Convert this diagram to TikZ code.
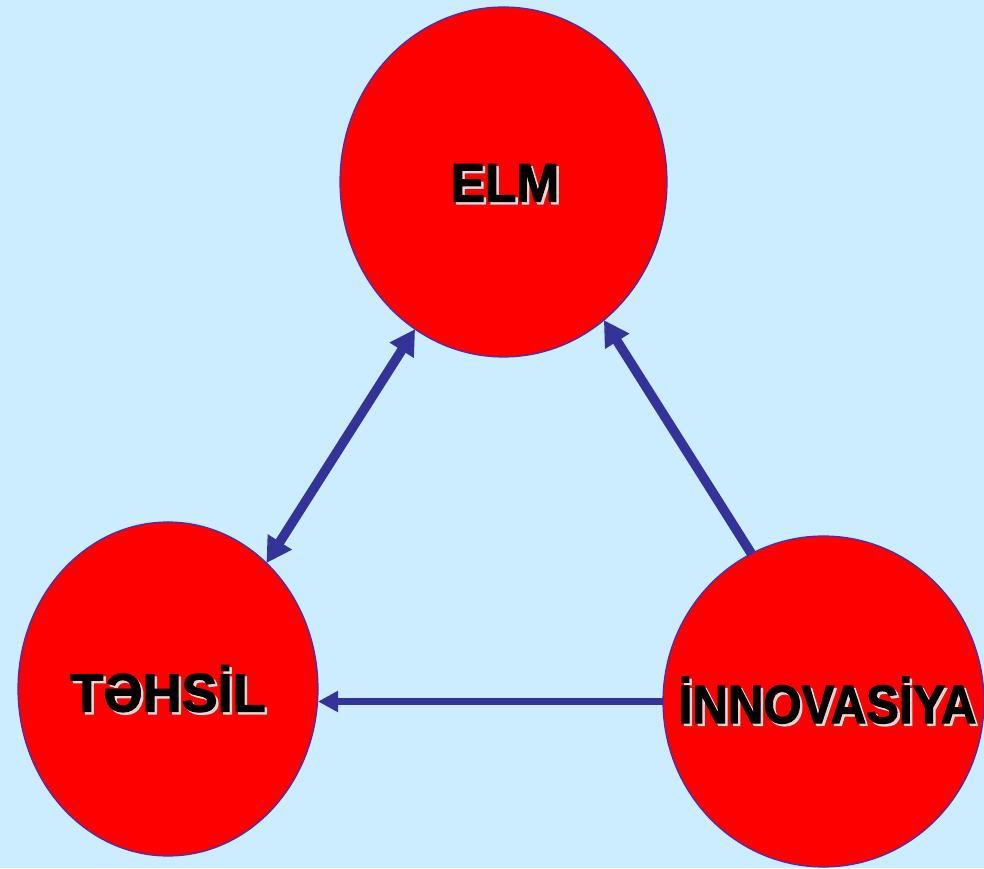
\documentclass[tikz,border=0pt]{standalone}
\usepackage{fontspec}
\setmainfont{Liberation Sans}
\newfontfamily\labelfont{Liberation Sans}[BoldFeatures={FakeBold=2.2}]
\usetikzlibrary{shapes.geometric,arrows.meta,positioning}
\definecolor{bgblue}{RGB}{204,236,255}
\definecolor{ringblue}{RGB}{51,51,204}
\definecolor{arrowblue}{RGB}{51,51,153}
\tikzstyle{arrow} = [color=arrowblue, line width=9.5pt, >={Triangle[length=25pt,width=27pt]}]
\tikzset{
 circ/.style
  = {ellipse, draw=ringblue, line width=1.2pt, fill=red, inner sep=0pt, outer sep=0pt},
 word/.style
  = {font=\labelfont\fontsize{54}{64}\selectfont\bfseries, text=black, inner sep=0pt,
     text height=39pt, text depth=0pt},
 glow/.style
  = {word, text=white, opacity=0.8},
}

\begin{document}
\begin{tikzpicture}[x=1pt,y=1pt]

% Background
\fill[bgblue] (0,0) rectangle (984,868);
\useasboundingbox (0,0) rectangle (984,868);

% Circles
\node[circ, minimum width=327pt, minimum height=350pt] (elm) at (503.5,686) {};
\node[circ, minimum width=300pt, minimum height=334pt] (tehsil) at (168,179) {};
\node[circ, minimum width=321pt, minimum height=331pt] (innov) at (823.5,166.5) {};

% Circle labels
\node[glow, xscale=0.95] (elmglow) at ([shift={(4,-2.5)}]elm.center) {ELM};
\node[word, xscale=0.95] (elmtext) at ([shift={(1.5,0)}]elm.center) {ELM};
\node[glow] (tehsilglow) at ([shift={(2.5,-5.5)}]tehsil.center) {TƏHSİL};
\node[word] (tehsiltext) at ([shift={(0,-3)}]tehsil.center) {TƏHSİL};
\node[glow, xscale=0.91] (innovglow) at ([shift={(6.5,-4.5)}]innov.center) {İNNOVASİYA};
\node[word, xscale=0.91] (innovtext) at ([shift={(4,-2)}]innov.center) {İNNOVASİYA};

% Arrows
\draw[arrow,<->] (tehsil.52) -- (elm.239);
\draw[arrow,->] (innov.116) -- (elm.306);
\draw[arrow,->,line width=7.5pt,>={Triangle[length=20pt,width=20pt]}]
  (innov.west) -- (innov.west -| tehsil.east);

\end{tikzpicture}
\end{document}
